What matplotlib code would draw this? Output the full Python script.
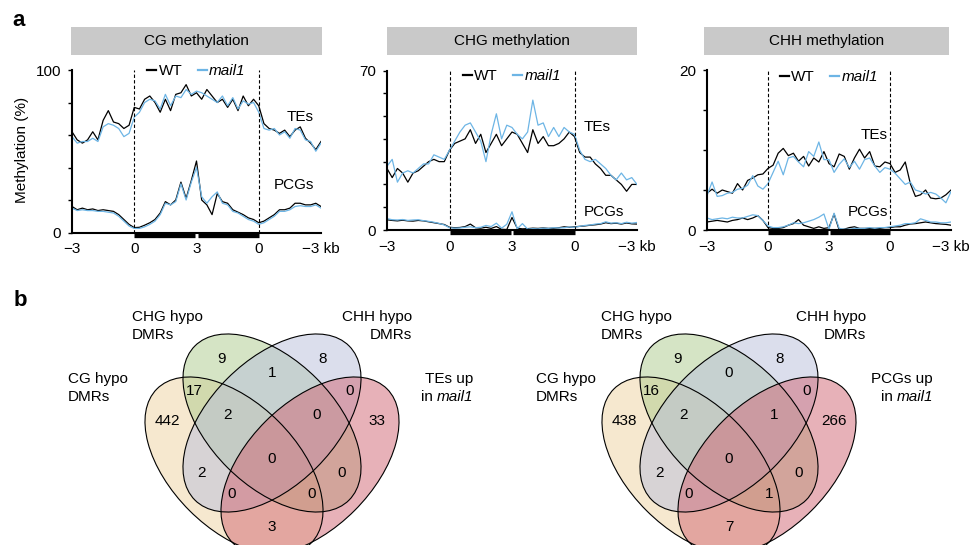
import numpy as np
import matplotlib
matplotlib.use("Agg")
import matplotlib.pyplot as plt
from matplotlib.patches import Ellipse
from matplotlib.lines import Line2D
from matplotlib import transforms

plt.rcParams['font.family'] = ['Liberation Sans', 'DejaVu Sans']

# ---- panel a data: metaplots (3 kb upstream | scaled body | 3 kb downstream)
bins = np.linspace(0, 12, 49)
tick_pos = [0, 3, 6, 9, 12]
tick_labels = ['\u22123', '0', '3', '0', '\u22123 kb']

cg_te_wt = [62, 57, 55, 57, 62, 57, 69, 75, 68, 67, 64, 66, 77, 76, 82, 84, 80, 74, 82, 75,
            85, 86, 91, 84, 86, 82, 88, 84, 80, 82, 77, 82, 75, 84, 78, 82, 78, 67, 64, 63,
            61, 63, 59, 63, 65, 58, 55, 51, 56]
cg_te_mail1 = [59, 55, 56, 56, 58, 56, 65, 67, 66, 64, 59, 61, 71, 74, 80, 82, 81, 76, 85, 78,
               84, 83, 88, 85, 87, 86, 84, 82, 80, 84, 78, 83, 76, 81, 79, 80, 74, 64, 63, 64,
               60, 62, 58, 64, 63, 57, 56, 50, 55]
cg_pcg_wt = [16, 14, 15, 14, 14.5, 13.5, 14, 13.5, 13, 11, 8, 5, 3, 3.2, 4.5, 6, 8, 12, 19, 17,
             20, 31, 21, 32, 44, 20, 17, 11, 24, 19, 18, 14, 12.5, 11, 9, 8, 6, 7, 9, 11,
             14, 14, 15, 18, 18, 17, 17, 18, 16]
cg_pcg_mail1 = [15, 13.5, 14, 13.5, 13.5, 13, 13, 12.5, 12, 10, 7, 4, 2.5, 2.5, 3.5, 5, 7, 11, 18, 17,
                19, 30, 20, 31, 40, 22, 18, 22, 25, 18, 17, 13, 12, 10, 8, 7, 5, 6, 8, 10,
                13, 13, 14, 16, 16.5, 16, 16, 17, 15]

chg_te_wt = [27, 23, 27, 25, 21, 25, 26, 28, 30, 31, 30, 30, 35, 38, 39, 40, 44, 38, 42, 34,
             38, 42, 37, 40, 43, 42, 38, 34, 44, 38, 41, 37, 37, 38, 40, 43, 41, 34, 32, 32,
             29, 27, 24, 24, 22, 20, 17, 20, 20]
chg_te_mail1 = [28, 31, 21, 25, 26, 25, 27, 29, 29, 33, 32, 31, 35, 39, 43, 46, 47, 43, 39, 30,
                42, 51, 40, 46, 45, 42, 40, 43, 57, 46, 47, 41, 45, 41, 45, 43, 42, 35, 31, 30,
                31, 29, 27, 24, 22, 25, 22, 23, 20]
chg_pcg_wt = [4.5, 4.2, 4.0, 4.3, 4.0, 3.9, 4.2, 4.0, 3.6, 3.2, 2.8, 2.4, 1.2, 1.0, 1.1, 1.5, 2.6, 1.0, 0.8, 1.2,
              0.7, 1.5, 0.3, 0.2, 5.5, 0.8, 0.5, 0.6, 0.8, 0.7, 0.9, 0.7, 0.8, 1.0, 1.4, 1.2, 1.4, 1.6, 1.8, 2.1,
              2.3, 2.6, 3.2, 2.8, 3.0, 2.6, 3.1, 2.7, 2.6]
chg_pcg_mail1 = [5.0, 4.5, 4.4, 4.6, 4.2, 4.4, 4.5, 4.1, 3.8, 3.4, 2.9, 2.2, 1.0, 0.8, 0.9, 1.2, 1.4, 1.0, 1.2, 2.0,
                 1.5, 3.0, 0.8, 2.5, 8.0, 0.5, 2.8, 0.4, 0.6, 0.5, 0.8, 0.7, 1.0, 0.9, 1.0, 1.3, 1.2, 1.6, 2.0, 2.2,
                 2.6, 2.8, 3.6, 3.0, 3.2, 2.8, 3.4, 3.0, 3.3]

chh_te_wt = [4.6, 5.1, 4.6, 5.0, 4.8, 4.6, 5.8, 5.0, 6.2, 6.5, 6.9, 7.0, 7.7, 8.1, 9.6, 10.2, 9.3, 9.6, 8.6, 9.2,
             8.0, 9.0, 8.5, 9.8, 8.3, 7.9, 9.5, 9.2, 7.6, 9.0, 10.1, 9.0, 9.8, 8.0, 7.9, 8.5, 8.3, 7.2, 7.5, 8.5,
             5.8, 4.2, 4.4, 5.0, 4.0, 3.9, 4.0, 4.4, 5.0]
chh_te_mail1 = [4.3, 6.0, 4.2, 4.3, 4.6, 4.7, 5.1, 5.2, 5.6, 6.8, 5.5, 5.1, 5.8, 7.2, 8.6, 6.9, 9.0, 9.2, 8.5, 7.9,
                9.8, 9.2, 11.0, 8.8, 8.8, 7.2, 8.2, 8.9, 7.8, 8.6, 7.6, 8.8, 9.0, 8.0, 7.2, 7.8, 7.6, 7.1, 6.4, 5.7,
                6.0, 5.0, 4.8, 4.5, 4.7, 4.5, 4.0, 3.4, 4.8]
chh_pcg_wt = [1.0, 1.1, 1.2, 1.1, 1.0, 1.2, 1.3, 1.5, 1.3, 1.5, 1.8, 1.2, 0.3, 0.2, 0.2, 0.3, 0.6, 0.8, 1.3, 0.6,
              0.4, 0.2, 0.4, 0.2, 0.3, 2.0, 0.0, 0.1, 0.3, 0.4, 0.2, 0.2, 0.2, 0.2, 0.2, 0.3, 0.3, 0.4, 0.4, 0.6,
              0.75, 0.8, 0.9, 1.0, 0.9, 0.8, 0.75, 0.7, 0.6]
chh_pcg_mail1 = [1.5, 1.3, 1.4, 1.5, 1.4, 1.6, 1.5, 1.5, 1.7, 1.9, 1.8, 1.2, 0.5, 0.3, 0.3, 0.4, 0.6, 0.9, 0.8, 0.9,
                 1.1, 1.3, 1.6, 2.0, 0.1, 2.1, 0.2, 0.1, 0.1, 0.2, 0.2, 0.2, 0.3, 0.2, 0.3, 0.3, 0.4, 0.5, 0.6, 0.8,
                 0.8, 0.9, 1.4, 1.2, 1.0, 1.0, 0.9, 0.9, 1.0]

titles = ['CG methylation', 'CHG methylation', 'CHH methylation']
ymax = [100, 70, 20]
ystep = [20, 10, 5]

# ---- panel b data: Venn region counts
regions = ['A', 'B', 'C', 'D', 'AB', 'AC', 'AD', 'BC', 'BD', 'CD', 'ABC', 'ABD', 'ACD', 'BCD', 'ABCD']
te_counts = [442, 9, 8, 33, 17, 2, 3, 1, 0, 0, 2, 0, 0, 0, 0]
pcg_counts = [438, 9, 8, 266, 16, 2, 7, 0, 0, 0, 2, 1, 0, 1, 0]
# (first line, second line); the last set's second line ends with the italic mutant name
te_sets = [('CG hypo', 'DMRs'), ('CHG hypo', 'DMRs'), ('CHH hypo', 'DMRs'), ('TEs up', 'in ')]
pcg_sets = [('CG hypo', 'DMRs'), ('CHG hypo', 'DMRs'), ('CHH hypo', 'DMRs'), ('PCGs up', 'in ')]
mutant = 'mail1'

W, H = 971, 545
BLUE = '#6db5e5'
FS = 11


def px_rect(x0, y0, x1, y1):
    return [x0 / W, 1 - y1 / H, (x1 - x0) / W, (y1 - y0) / H]


fig = plt.figure(figsize=(W / 100, H / 100), dpi=100)
renderer = fig.canvas.get_renderer()

# overlay in pixel coordinates for panel letters and Venn diagrams
ov = fig.add_axes([0, 0, 1, 1])
ov.set_xlim(0, W)
ov.set_ylim(H, 0)
ov.axis('off')

ax_px = [(72, 70, 321, 232.5), (387, 70.5, 637, 230), (707, 70, 951, 230)]
head_px = [(71, 27, 322, 55), (387, 27, 637, 55), (704, 27, 949, 55)]
series = [(cg_te_wt, cg_te_mail1, cg_pcg_wt, cg_pcg_mail1),
          (chg_te_wt, chg_te_mail1, chg_pcg_wt, chg_pcg_mail1),
          (chh_te_wt, chh_te_mail1, chh_pcg_wt, chh_pcg_mail1)]
te_lab = [(11.0, 71), (10.1, 45), (8.2, 11.9)]
pcg_lab = [(10.7, 29.5), (10.4, 7.9), (7.9, 2.3)]
leg_y = [1.035, 1.01, 1.0]

for i in range(3):
    hx = fig.add_axes(px_rect(*head_px[i]))
    hx.set_facecolor('#c9c9c9')
    hx.set_xticks([])
    hx.set_yticks([])
    for s in hx.spines.values():
        s.set_visible(False)
    hx.text(0.5, 0.5, titles[i], ha='center', va='center', fontsize=FS, transform=hx.transAxes)

    ax = fig.add_axes(px_rect(*ax_px[i]))
    te_wt, te_m, pcg_wt, pcg_m = series[i]
    ax.plot(bins, te_wt, color='black', lw=0.9)
    ax.plot(bins, te_m, color=BLUE, lw=0.9)
    ax.plot(bins, pcg_wt, color='black', lw=0.9)
    ax.plot(bins, pcg_m, color=BLUE, lw=0.9)
    ax.axvline(3, color='black', ls=(0, (3, 2)), lw=0.8)
    ax.axvline(9, color='black', ls=(0, (3, 2)), lw=0.8)

    ax.set_xlim(0, 12)
    ax.set_ylim(0, ymax[i])
    ax.set_xticks(tick_pos)
    ax.set_xticklabels(tick_labels, fontsize=FS)
    ax.tick_params(axis='x', length=0, pad=7)
    yt = np.arange(0, ymax[i] + 1, ystep[i])
    ax.set_yticks(yt)
    ax.set_yticklabels([str(v) if v in (0, ymax[i]) else '' for v in yt], fontsize=FS)
    ax.tick_params(axis='y', length=3, width=1, pad=5)
    for s in ['top', 'right']:
        ax.spines[s].set_visible(False)
    for s in ['left', 'bottom']:
        ax.spines[s].set_linewidth(1.5)

    # gene body bar under the axis
    tr = transforms.blended_transform_factory(ax.transData, ax.transAxes)
    for seg in ([3, 5.93], [6.07, 9]):
        ax.plot(seg, [-0.013, -0.013], color='black', lw=3.8, solid_capstyle='butt',
                transform=tr, clip_on=False)

    ax.text(*te_lab[i], 'TEs', fontsize=FS, ha='center', va='center')
    ax.text(*pcg_lab[i], 'PCGs', fontsize=FS, ha='center', va='center')

    handles = [Line2D([], [], color='black', lw=1.6), Line2D([], [], color=BLUE, lw=1.6)]
    leg = ax.legend(handles, ['WT', mutant], loc='upper center', bbox_to_anchor=(0.5, leg_y[i]),
                    ncol=2, frameon=False, fontsize=FS, handlelength=0.6, handletextpad=0.15,
                    columnspacing=1.0, borderpad=0, borderaxespad=0)
    leg.get_texts()[1].set_fontstyle('italic')

ov.text(22, 150, 'Methylation (%)', rotation=90, ha='center', va='center', fontsize=FS)
ov.text(19, 21, 'a', fontsize=16, fontweight='bold', ha='center', va='center')
ov.text(20, 300, 'b', fontsize=16, fontweight='bold', ha='center', va='center')

# ---- Venn diagrams
fills = ['#efd3a1', '#adcb8d', '#b9bfdb', '#d16573']
ell_off = [(-38, 43), (0, 0), (0, 0), (38, 43)]
ell_ang = [45, 45, -45, -45]
lab_off = {'A': (-105, -2), 'B': (-51, -64), 'C': (51, -64), 'D': (105, -2),
           'AB': (-78, -32), 'AC': (-70, 50), 'AD': (0, 104), 'BC': (0, -50),
           'BD': (70, 50), 'CD': (78, -32), 'ABC': (-45, -8), 'ABD': (40, 71),
           'ACD': (-40, 71), 'BCD': (45, -8), 'ABCD': (0, 36)}

venns = [((272, 423), te_counts, te_sets,
          [(68, 388, 'left'), (132, 326, 'left'), (412, 326, 'right'), (473, 388, 'right')]),
         ((729, 423), pcg_counts, pcg_sets,
          [(536, 388, 'left'), (601, 326, 'left'), (866, 326, 'right'), (933, 388, 'right')])]

half_gap = 9.2  # half of the line pitch in pixels
for (cx, cy), counts, names, name_pos in venns:
    for k in range(4):
        ov.add_patch(Ellipse((cx + ell_off[k][0], cy + ell_off[k][1]), 218, 126, angle=ell_ang[k],
                             facecolor=fills[k], alpha=0.5, edgecolor='none'))
    for k in range(4):
        ov.add_patch(Ellipse((cx + ell_off[k][0], cy + ell_off[k][1]), 218, 126, angle=ell_ang[k],
                             fill=False, edgecolor='black', lw=0.8))
    for r, n in zip(regions, counts):
        dx, dy = lab_off[r]
        ov.text(cx + dx, cy + dy, str(n), ha='center', va='center', fontsize=FS)
    for k, ((l1, l2), (x, y, ha)) in enumerate(zip(names, name_pos)):
        ov.text(x, y - half_gap, l1, ha=ha, va='center', fontsize=FS)
        if k < 3:
            ov.text(x, y + half_gap, l2, ha=ha, va='center', fontsize=FS)
        else:
            t = ov.text(x, y + half_gap, mutant, ha='right', va='center', fontsize=FS, style='italic')
            w = t.get_window_extent(renderer).width
            ov.text(x - w - 3.5, y + half_gap, l2.strip(), ha='right', va='center', fontsize=FS)

fig.savefig('out.png', dpi=100)
